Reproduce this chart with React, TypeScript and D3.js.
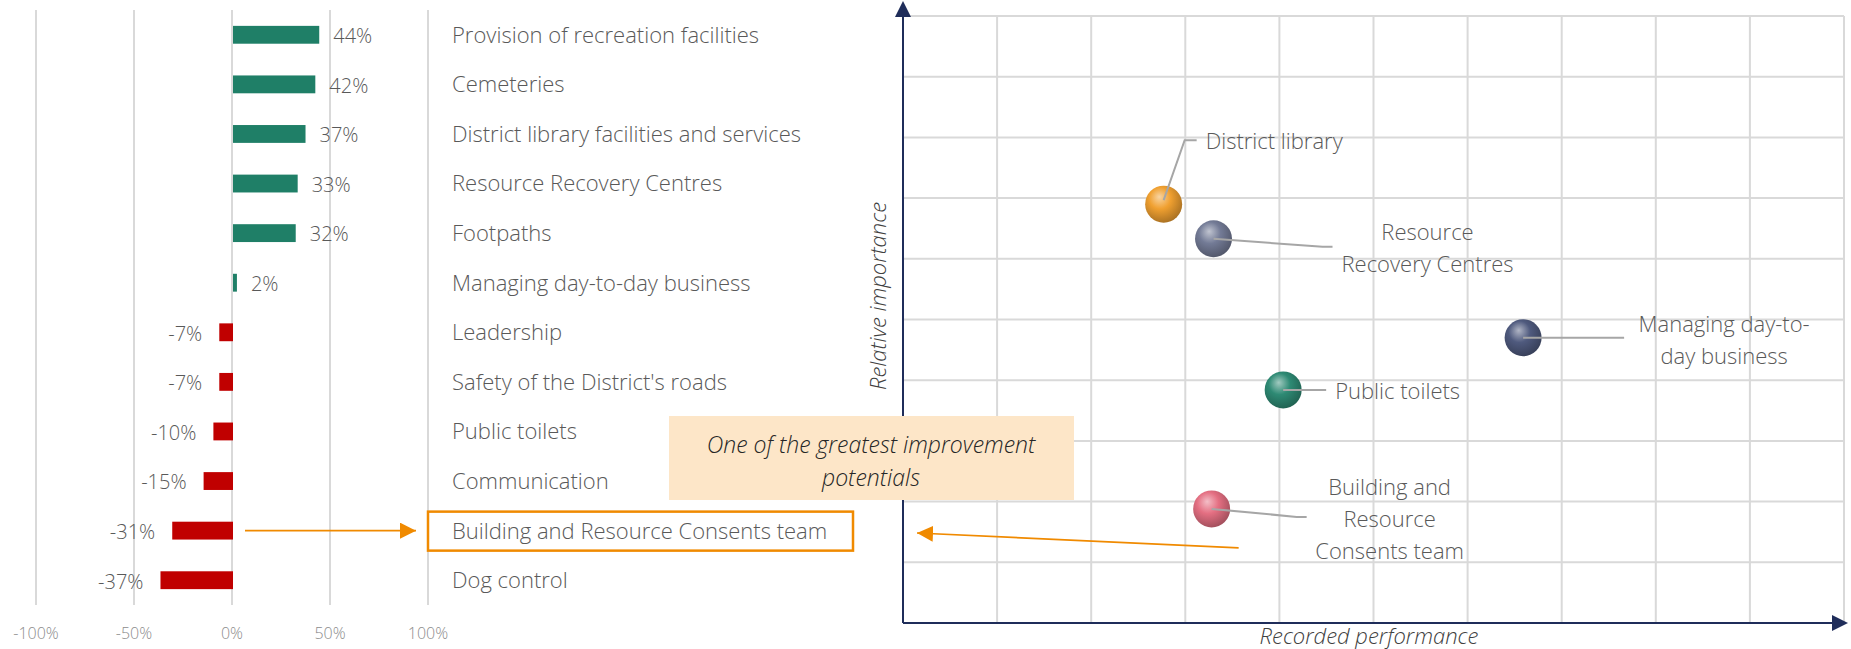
import React from 'react'
import * as d3 from 'd3'

// left chart: change vs last survey
const categories = [
  'Provision of recreation facilities',
  'Cemeteries',
  'District library facilities and services',
  'Resource Recovery Centres',
  'Footpaths',
  'Managing day-to-day business',
  'Leadership',
  "Safety of the District's roads",
  'Public toilets',
  'Communication',
  'Building and Resource Consents team',
  'Dog control',
]
const changes = [0.44, 0.42, 0.37, 0.33, 0.32, 0.02, -0.07, -0.07, -0.10, -0.15, -0.31, -0.37]
const barTicks = [-1, -0.5, 0, 0.5, 1]

// right chart: importance / performance
const pointNames = [
  'District library',
  'Resource Recovery Centres',
  'Managing day-to-day business',
  'Public toilets',
  'Building and Resource Consents team',
]
const performance = [2.77, 3.3, 6.59, 4.04, 3.28]
const importance = [6.9, 6.33, 4.7, 3.84, 1.88]
const gridSteps = d3.range(0, 11)

const FONT = "'Segoe UI', 'Open Sans', 'Noto Sans', sans-serif"
const GRID = '#d9d9d9'
const AXIS = '#1f2d5a'
const ORANGE = '#f08a00'
const TEXT = '#595959'

// bubble colours + callout layout (px offsets from bubble centre)
const bubbleColors = ['#f0a030', '#737b96', '#4f5a7e', '#2e8a74', '#e46f82']
const callouts = [
  { path: [[0, -4], [21, -64], [33, -64]], lines: ['District library'], anchor: 'start', tx: 42, ty: -61 },
  { path: [[0, 0], [109, 8], [119, 8]], lines: ['Resource', 'Recovery Centres'], anchor: 'middle', tx: 214, ty: -5 },
  { path: [[0, 0], [101, 0]], lines: ['Managing day-to-', 'day business'], anchor: 'middle', tx: 201, ty: -12 },
  { path: [[0, 0], [43, 0]], lines: ['Public toilets'], anchor: 'start', tx: 52, ty: 3 },
  { path: [[0, 0], [85, 8], [95, 8]], lines: ['Building and', 'Resource', 'Consents team'], anchor: 'middle', tx: 178, ty: -20 },
]

// d3 uses a unicode minus, the source uses a plain hyphen
const pct = (v: number) => d3.format('.0%')(v).replace('\u2212', '-')

function Ball({ cx, cy, r, color, id }: { cx: number; cy: number; r: number; color: string; id: string }) {
  const light = d3.interpolateRgb(color, '#ffffff')(0.55)
  const dark = d3.interpolateRgb(color, '#000000')(0.3)
  return (
    <g>
      <defs>
        <radialGradient id={id} cx="0.42" cy="0.38" r="0.65" fx="0.38" fy="0.3">
          <stop offset="0%" stopColor={light} />
          <stop offset="45%" stopColor={color} />
          <stop offset="100%" stopColor={dark} />
        </radialGradient>
      </defs>
      <circle cx={cx} cy={cy} r={r} fill={`url(#${id})`} />
    </g>
  )
}

export default function App() {
  // left bars
  const x = d3.scaleLinear().domain([-1, 1]).range([36, 428])
  const y = d3.scaleBand().domain(categories).range([10, 605]).paddingInner(0.64).paddingOuter(0.32)

  // right scatter
  const sx = d3.scaleLinear().domain([0, 10]).range([903, 1844])
  const sy = d3.scaleLinear().domain([0, 10]).range([623, 16])
  const line = d3.line()

  const hl = categories.indexOf('Building and Resource Consents team')
  const hlY = (y(categories[hl]) as number) + y.bandwidth() / 2
  const bIdx = pointNames.indexOf('Building and Resource Consents team')

  return (
    <div style={{ position: 'absolute', left: 0, top: 0 }}>
      <svg width={1851} height={649} style={{ display: 'block', fontFamily: FONT }}>
        <defs>
          <marker id="arrOrange" viewBox="0 0 10 10" refX="10" refY="5" markerWidth="10" markerHeight="10" markerUnits="strokeWidth" orient="auto">
            <path d="M0,0 L10,5 L0,10 z" fill={ORANGE} />
          </marker>
        </defs>

        {/* ---- bar chart ---- */}
        {barTicks.map(t => (
          <g key={t}>
            <line x1={x(t)} x2={x(t)} y1={10} y2={605} stroke={GRID} strokeWidth={2} />
            <text x={x(t)} y={635} textAnchor="middle" dominantBaseline="middle" fontSize={16} fill="#8c8c8c" fontWeight={300}>
              {pct(t)}
            </text>
          </g>
        ))}
        {categories.map((c, i) => {
          const v = changes[i]
          const yc = (y(c) as number) + y.bandwidth() / 2
          return (
            <g key={c}>
              <rect
                x={Math.min(x(0), x(v)) + 1}
                y={y(c)}
                width={Math.abs(x(v) - x(0))}
                height={y.bandwidth()}
                fill={v >= 0 ? '#1f7f67' : '#c00000'}
              />
              <text
                x={v >= 0 ? x(v) + 15 : x(v) - 16}
                y={yc + 3}
                textAnchor={v >= 0 ? 'start' : 'end'}
                dominantBaseline="middle"
                fontSize={20}
                fill={TEXT}
                fontWeight={300}
              >
                {pct(v)}
              </text>
              <text x={452} y={yc + 2} dominantBaseline="middle" fontSize={22} fill={TEXT} fontWeight={300}>
                {c}
              </text>
            </g>
          )
        })}
        <rect x={428} y={hlY - 19} width={425} height={39} fill="none" stroke={ORANGE} strokeWidth={2.5} />
        <line x1={245} x2={416} y1={hlY} y2={hlY} stroke={ORANGE} strokeWidth={1.6} markerEnd="url(#arrOrange)" />

        {/* ---- scatter ---- */}
        {gridSteps.map(g => (
          <g key={g}>
            <line x1={sx(g)} x2={sx(g)} y1={sy(10)} y2={sy(0)} stroke={GRID} strokeWidth={2} />
            <line x1={sx(0)} x2={sx(10)} y1={sy(g)} y2={sy(g)} stroke={GRID} strokeWidth={2} />
          </g>
        ))}
        <line x1={sx(0)} x2={sx(0)} y1={sy(0)} y2={14} stroke={AXIS} strokeWidth={2} />
        <path d={`M${sx(0) - 8},17 L${sx(0)},1 L${sx(0) + 8},17 z`} fill={AXIS} />
        <line x1={sx(0)} x2={1834} y1={sy(0)} y2={sy(0)} stroke={AXIS} strokeWidth={2} />
        <path d={`M1832,${sy(0) - 8} L1848,${sy(0)} L1832,${sy(0) + 8} z`} fill={AXIS} />

        <text x={1369} y={638} textAnchor="middle" dominantBaseline="middle" fontSize={22} fontStyle="italic" fill="#404040" fontWeight={300}>
          Recorded performance
        </text>
        <text
          transform="translate(880,296) rotate(-90)"
          textAnchor="middle"
          dominantBaseline="middle"
          fontSize={22}
          fontStyle="italic"
          fill="#404040"
          fontWeight={300}
        >
          Relative importance
        </text>

        {pointNames.map((n, i) => {
          const cx = sx(performance[i])
          const cy = sy(importance[i])
          const c = callouts[i]
          const pts = c.path.map(([dx, dy]) => [cx + dx, cy + dy] as [number, number])
          return (
            <g key={n}>
              <Ball cx={cx} cy={cy} r={18.5} color={bubbleColors[i]} id={`ball${i}`} />
              <path d={line(pts) || ''} fill="none" stroke="#a6a6a6" strokeWidth={2} />
              {c.lines.map((l, k) => (
                <text
                  key={k}
                  x={cx + c.tx}
                  y={cy + c.ty + k * 32}
                  textAnchor={c.anchor as any}
                  dominantBaseline="middle"
                  fontSize={22}
                  fill={TEXT}
                  fontWeight={300}
                >
                  {l}
                </text>
              ))}
            </g>
          )
        })}

        <line
          x1={sx(performance[bIdx]) + 27}
          y1={sy(importance[bIdx]) + 39}
          x2={917}
          y2={533}
          stroke={ORANGE}
          strokeWidth={1.6}
          markerEnd="url(#arrOrange)"
        />

        {/* annotation box */}
        <rect x={669} y={416} width={405} height={84} fill="#fde6c8" />
        <text x={871} y={447} textAnchor="middle" dominantBaseline="middle" fontSize={23} fontStyle="italic" fill="#262626" fontWeight={300}>
          One of the greatest improvement
        </text>
        <text x={871} y={480} textAnchor="middle" dominantBaseline="middle" fontSize={23} fontStyle="italic" fill="#262626" fontWeight={300}>
          potentials
        </text>
      </svg>
    </div>
  )
}
